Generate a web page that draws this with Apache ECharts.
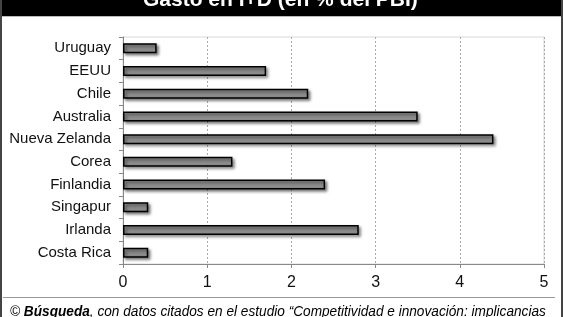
<!DOCTYPE html>
<html><head><meta charset="utf-8">
<script src="https://cdn.jsdelivr.net/npm/echarts@6/dist/echarts.min.js"></script>
<style>html,body{margin:0;padding:0;background:#fff}#c{width:563px;height:317px}</style>
</head><body><div id="c"></div>
<script>
var categories = ['Uruguay','EEUU','Chile','Australia','Nueva Zelanda','Corea','Finlandia','Singapur','Irlanda','Costa Rica'];
var values = [0.4,1.7,2.2,3.5,4.4,1.3,2.4,0.3,2.8,0.3];
var xTicks = [0,1,2,3,4,5];
var titleText = 'Gasto en I+D (en % del PBI)';
var footerSource = 'Búsqueda';
var footerRest = ', con datos citados en el estudio “Competitividad e innovación: implicancias';

var chart = echarts.init(document.getElementById('c'));
var font = '"Liberation Sans", Arial, Helvetica, sans-serif';
chart.setOption({
  animation: false,
  backgroundColor: '#fff',
  grid: {left: 123, right: 19, top: 37, bottom: 53, show: true, borderColor: '#d8d8d8', borderWidth: 1, backgroundColor: '#fff'},
  xAxis: {
    type: 'value', min: xTicks[0], max: xTicks[xTicks.length-1], interval: 1,
    axisLine: {show: true, lineStyle: {color: '#888', width: 1}},
    axisTick: {show: true, length: 4, lineStyle: {color: '#888'}},
    axisLabel: {color: '#111', fontSize: 16, fontFamily: font, margin: 11},
    splitLine: {show: true, lineStyle: {color: '#aaa', type: [2, 2], width: 1}}
  },
  yAxis: {
    type: 'category', data: categories, inverse: true,
    axisLine: {show: true, lineStyle: {color: '#888', width: 1}},
    axisTick: {show: true, length: 4, lineStyle: {color: '#888'}},
    axisLabel: {color: '#111', fontSize: 15, fontFamily: font, margin: 12}
  },
  series: [{
    type: 'bar', data: values, barWidth: 10,
    itemStyle: {color: '#8c8c8c', borderColor: '#000', borderWidth: 1.5,
      shadowColor: 'rgba(0,0,0,0.5)', shadowBlur: 3, shadowOffsetX: 2, shadowOffsetY: 2}
  }],
  graphic: [
    {type: 'rect', left: 0, top: 0, shape: {width: 563, height: 16}, style: {fill: '#000'}, z: 10},
    {type: 'text', x: 143, y: -10, style: {text: titleText, fill: '#fff', font: 'bold 21px ' + font}, z: 11},
    {type: 'rect', left: 0, top: 16, shape: {width: 563, height: 1}, style: {fill: '#bbb'}, z: 10},
    {type: 'rect', left: 0, top: 0, shape: {width: 2, height: 317}, style: {fill: '#444'}, z: 12},
    {type: 'rect', left: 561, top: 0, shape: {width: 2, height: 317}, style: {fill: '#444'}, z: 12},
    {type: 'rect', left: 3, top: 297, shape: {width: 552, height: 1}, style: {fill: '#999'}, z: 10},
    {type: 'text', x: 10, y: 305, scaleX: 0.975, style: {
      rich: {b: {font: 'italic bold 14px ' + font, fill: '#000'}, n: {font: 'italic 14px ' + font, fill: '#000'}},
      text: '{n|© }{b|' + footerSource + '}{n|' + footerRest + '}'}, z: 11}
  ]
});
</script></body></html>
